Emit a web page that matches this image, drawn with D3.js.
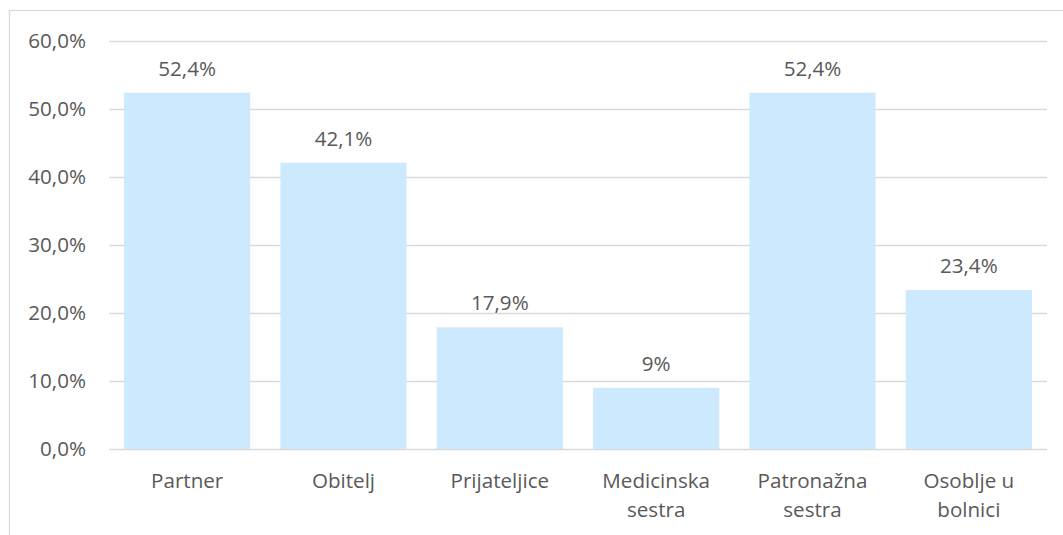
<!DOCTYPE html>
<html><head><meta charset="utf-8">
<script src="https://cdn.jsdelivr.net/npm/d3@7"></script>
<style>html,body{margin:0;padding:0;background:#fff;}svg{display:block;}</style>
</head><body>
<script>
const categories = [["Partner"],["Obitelj"],["Prijateljice"],["Medicinska","sestra"],["Patronažna","sestra"],["Osoblje u","bolnici"]];
const values = [52.4, 42.1, 17.9, 9, 52.4, 23.4];
const valueLabels = ["52,4%","42,1%","17,9%","9%","52,4%","23,4%"];
const ticks = [0,10,20,30,40,50,60];
const tickLabels = ["0,0%","10,0%","20,0%","30,0%","40,0%","50,0%","60,0%"];

(function() {
const W = 1063, H = 535;
const font = "'Open Sans', sans-serif";
const fs = 20.6;
const txt = "#595959";
const svg = d3.select("body").append("svg").attr("width", W).attr("height", H);
svg.append("rect").attr("x", 9.5).attr("y", 10.5).attr("width", 1100).attr("height", 600)
  .attr("fill", "none").attr("stroke", "#d9d9d9").attr("stroke-width", 1.3);

const pLeft = 109, pRight = 1047, pTop = 41, pBottom = 449;
const x = d3.scaleBand().domain(d3.range(categories.length)).range([pLeft, pRight]).paddingInner(0.193).paddingOuter(0.0965);
const y = d3.scaleLinear().domain([0, 60]).range([pBottom, pTop]);

svg.append("g").selectAll("line").data(ticks).join("line")
  .attr("x1", pLeft).attr("x2", pRight)
  .attr("y1", d => y(d) + 0.5).attr("y2", d => y(d) + 0.5)
  .attr("stroke", "#d9d9d9").attr("stroke-width", 1.3);

svg.append("g").selectAll("text").data(ticks).join("text")
  .attr("x", 86).attr("y", d => y(d)).attr("dy", "0.36em")
  .attr("text-anchor", "end").attr("font-family", font).attr("font-size", fs).attr("fill", txt)
  .text((d, i) => tickLabels[i]);

svg.append("g").selectAll("rect").data(values).join("rect")
  .attr("x", (d, i) => x(i)).attr("width", x.bandwidth())
  .attr("y", d => y(d)).attr("height", d => pBottom - y(d))
  .attr("fill", "#cde9fd");

svg.append("g").selectAll("text").data(values).join("text")
  .attr("x", (d, i) => x(i) + x.bandwidth() / 2).attr("y", d => y(d) - 17)
  .attr("text-anchor", "middle").attr("font-family", font).attr("font-size", fs).attr("fill", txt)
  .text((d, i) => valueLabels[i]);

const cat = svg.append("g").selectAll("text").data(categories).join("text")
  .attr("text-anchor", "middle").attr("font-family", font).attr("font-size", fs).attr("fill", txt);
cat.each(function(lines, i) {
  d3.select(this).selectAll("tspan").data(lines).join("tspan")
    .attr("x", x(i) + x.bandwidth() / 2).attr("y", (l, j) => 488 + j * 29)
    .text(l => l);
});
})();
</script>
</body></html>
